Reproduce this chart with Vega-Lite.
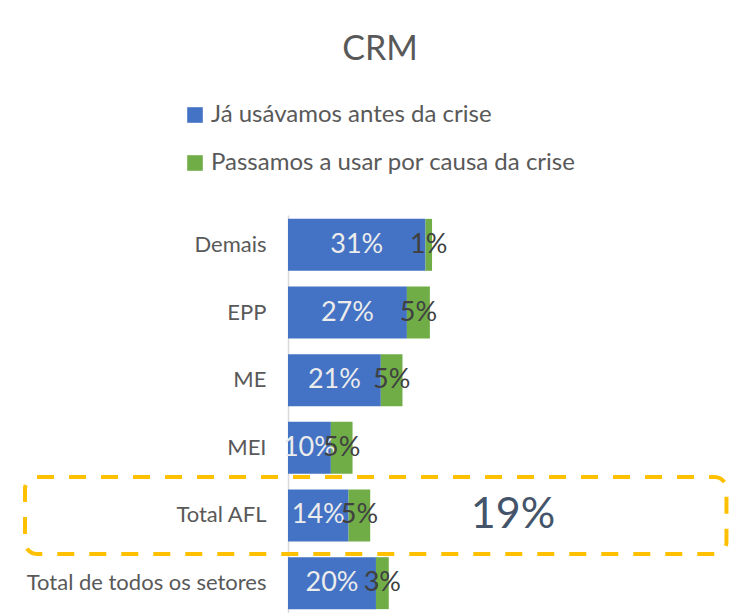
{
  "$schema": "https://vega.github.io/schema/vega-lite/v6.json",
  "autosize": {"type": "none"},
  "width": 442,
  "height": 398,
  "padding": {"left": 288, "top": 215, "right": 14, "bottom": 0},
  "background": "white",
  "config": {
    "view": {"stroke": null},
    "font": "Lato"
  },
  "title": {
    "text": "CRM",
    "fontSize": 34,
    "font": "Lato",
    "fontWeight": "normal",
    "color": "#595959",
    "anchor": "middle",
    "dx": -129,
    "offset": 36
  },
  "datasets": {
    "bars": [
      {"cat": "Demais", "series": "Já usávamos antes da crise", "order": 1, "value": 0.311},
      {"cat": "Demais", "series": "Passamos a usar por causa da crise", "order": 2, "value": 0.0149},
      {"cat": "EPP", "series": "Já usávamos antes da crise", "order": 1, "value": 0.269},
      {"cat": "EPP", "series": "Passamos a usar por causa da crise", "order": 2, "value": 0.052},
      {"cat": "ME", "series": "Já usávamos antes da crise", "order": 1, "value": 0.21},
      {"cat": "ME", "series": "Passamos a usar por causa da crise", "order": 2, "value": 0.049},
      {"cat": "MEI", "series": "Já usávamos antes da crise", "order": 1, "value": 0.097},
      {"cat": "MEI", "series": "Passamos a usar por causa da crise", "order": 2, "value": 0.049},
      {"cat": "Total AFL", "series": "Já usávamos antes da crise", "order": 1, "value": 0.137},
      {"cat": "Total AFL", "series": "Passamos a usar por causa da crise", "order": 2, "value": 0.049},
      {"cat": "Total de todos os setores", "series": "Já usávamos antes da crise", "order": 1, "value": 0.199},
      {"cat": "Total de todos os setores", "series": "Passamos a usar por causa da crise", "order": 2, "value": 0.029}
    ],
    "box": [
      {"cat": "Total AFL", "x0": -0.595, "x1": 0.992, "label": "19%", "labelX": 0.509}
    ]
  },
  "encoding": {
    "y": {
      "field": "cat",
      "type": "nominal",
      "sort": ["Demais", "EPP", "ME", "MEI", "Total AFL", "Total de todos os setores"],
      "scale": {"paddingInner": 0.232, "paddingOuter": 0.057},
      "axis": {
        "title": null,
        "ticks": false,
        "tickSize": 0,
        "labelPadding": 22,
        "labelFontSize": 22,
        "labelFont": "Lato",
        "labelColor": "#595959",
        "labelLimit": 400,
        "domainColor": "#D9D9D9",
        "domainWidth": 1.5,
        "grid": false
      }
    }
  },
  "layer": [
    {
      "data": {"name": "bars"},
      "transform": [
        {"stack": "value", "groupby": ["cat"], "sort": [{"field": "order"}], "as": ["v0", "v1"]}
      ],
      "mark": {"type": "bar"},
      "encoding": {
        "x": {"field": "v0", "type": "quantitative", "scale": {"domain": [0, 1]}, "axis": null},
        "x2": {"field": "v1"},
        "color": {
          "field": "series",
          "type": "nominal",
          "scale": {
            "domain": ["Já usávamos antes da crise", "Passamos a usar por causa da crise"],
            "range": ["#4472C4", "#70AD47"]
          },
          "legend": {
            "title": null,
            "orient": "none",
            "legendX": -105,
            "legendY": -112,
            "direction": "vertical",
            "symbolType": "square",
            "symbolSize": 243,
            "symbolStrokeWidth": 0,
            "labelFontSize": 24,
            "labelFont": "Lato",
            "labelColor": "#595959",
            "labelOffset": 4,
            "rowPadding": 24,
            "labelLimit": 500
          }
        }
      }
    },
    {
      "data": {"name": "bars"},
      "transform": [
        {"stack": "value", "groupby": ["cat"], "sort": [{"field": "order"}], "as": ["v0", "v1"]},
        {"fold": ["v0", "v1"], "as": ["edge", "pos"]},
        {"aggregate": [{"op": "mean", "field": "pos", "as": "mid"}], "groupby": ["cat", "order", "value"]}
      ],
      "mark": {"type": "text", "fontSize": 27, "font": "Lato", "align": "center", "baseline": "middle"},
      "encoding": {
        "x": {"field": "mid", "type": "quantitative"},
        "text": {"field": "value", "type": "quantitative", "format": ".0%"},
        "color": {
          "condition": {"test": "datum.order == 1", "value": "#ECECEC"},
          "value": "#404040"
        }
      }
    },
    {
      "data": {"name": "box"},
      "mark": {
        "type": "rect",
        "fillOpacity": 0,
        "stroke": "#FFC000",
        "strokeWidth": 4,
        "strokeDash": [17, 15],
        "cornerRadius": 12,
        "height": {"band": 1.48}
      },
      "encoding": {
        "x": {"field": "x0", "type": "quantitative"},
        "x2": {"field": "x1"}
      }
    },
    {
      "data": {"name": "box"},
      "mark": {"type": "text", "fontSize": 43, "font": "Lato", "color": "#44546A", "align": "center", "baseline": "middle"},
      "encoding": {
        "x": {"field": "labelX", "type": "quantitative"},
        "text": {"field": "label"}
      }
    }
  ]
}
